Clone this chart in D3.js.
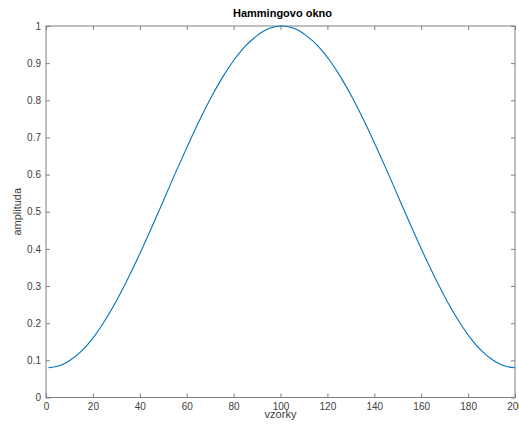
<!DOCTYPE html>
<html><head><meta charset="utf-8">
<script src="https://cdn.jsdelivr.net/npm/d3@7"></script>
<style>body{margin:0;background:#fff}svg{display:block}text{font-family:"Liberation Sans",Arial,sans-serif}</style>
</head><body>
<script>
const sampleX = [1,5,10,15,20,25,30,35,40,45,50,55,60,65,70,75,80,85,90,95,100,
  101,106,111,116,121,126,131,136,141,146,151,156,161,166,171,176,181,186,191,196,200];
const amplitude = [0.080,0.084,0.099,0.124,0.160,0.206,0.260,0.321,0.387,0.457,0.529,0.602,0.672,0.740,0.803,0.859,0.907,0.946,0.974,0.993,1.000,
  1.000,0.993,0.974,0.946,0.907,0.859,0.803,0.740,0.672,0.602,0.529,0.457,0.387,0.321,0.260,0.206,0.160,0.124,0.099,0.084,0.080];
const xTicks = [0,20,40,60,80,100,120,140,160,180,200];
const yTicks = [0,0.1,0.2,0.3,0.4,0.5,0.6,0.7,0.8,0.9,1];
const yTickLabels = ["0","0.1","0.2","0.3","0.4","0.5","0.6","0.7","0.8","0.9","1"];

const W=519,H=424, L=46, R=515, T=26, B=397.5;
const svg=d3.select("body").append("svg").attr("width",W).attr("height",H);
const x=d3.scaleLinear().domain([0,200]).range([L,R]);
const y=d3.scaleLinear().domain([0,1]).range([B,T]);
const axisColor="#7f7f7f", textColor="#404040";

function style(g){
  g.select(".domain").remove();
  g.selectAll(".tick line").attr("stroke",axisColor);
  g.selectAll(".tick text").attr("fill",textColor).style("font-size","10px");
}
svg.append("g").attr("transform",`translate(0,${B})`)
  .call(d3.axisBottom(x).tickValues(xTicks).tickSize(-4).tickPadding(5).tickFormat(d3.format("d"))).call(style);
svg.append("g").attr("transform",`translate(0,${T})`)
  .call(d3.axisTop(x).tickValues(xTicks).tickSize(-4).tickFormat("")).call(style);
svg.append("g").attr("transform",`translate(${L},0)`)
  .call(d3.axisLeft(y).tickValues(yTicks).tickSize(-4).tickPadding(5).tickFormat((d,i)=>yTickLabels[i])).call(style);
svg.append("g").attr("transform",`translate(${R},0)`)
  .call(d3.axisRight(y).tickValues(yTicks).tickSize(-4).tickFormat("")).call(style);

svg.append("rect").attr("x",L).attr("y",T).attr("width",R-L).attr("height",B-T)
  .attr("fill","none").attr("stroke",axisColor).attr("stroke-width",1);

const pts=sampleX.map((d,i)=>[d,amplitude[i]]);
svg.append("path").datum(pts).attr("fill","none").attr("stroke","#0072BD").attr("stroke-width",1.1)
  .attr("d",d3.line().x(d=>x(d[0])).y(d=>y(d[1])).curve(d3.curveMonotoneX));

svg.append("text").attr("x",(L+R)/2+2).attr("y",17).attr("text-anchor","middle")
  .style("font-size","11px").style("font-weight","bold").attr("fill","#000").text("Hammingovo okno");
svg.append("text").attr("x",(L+R)/2).attr("y",418).attr("text-anchor","middle")
  .style("font-size","11px").attr("fill",textColor).text("vzorky");
svg.append("text").attr("transform",`translate(21,${(T+B)/2}) rotate(-90)`).attr("text-anchor","middle")
  .style("font-size","11px").attr("fill",textColor).text("amplituda");
</script>
</body></html>
